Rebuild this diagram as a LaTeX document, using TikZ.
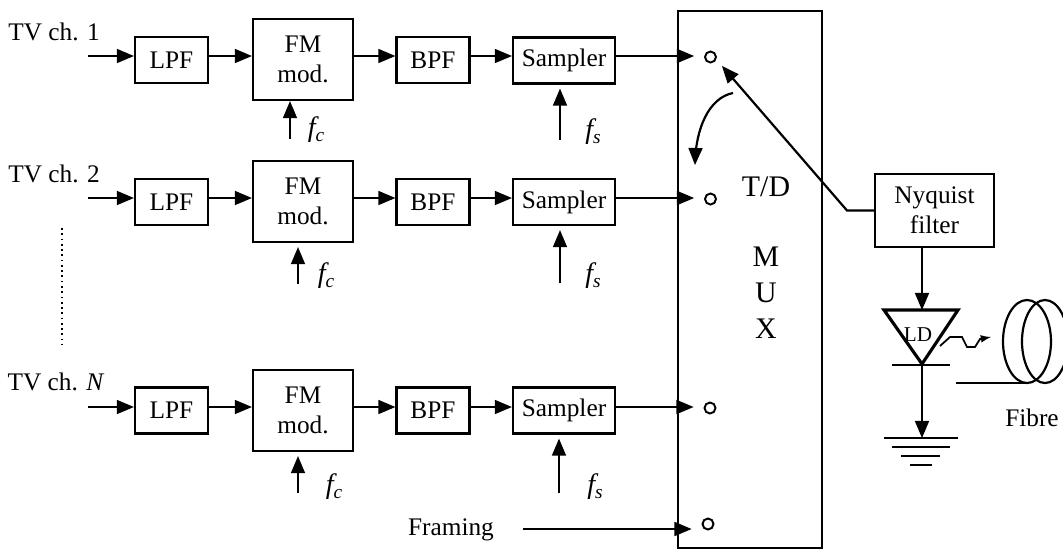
\documentclass[tikz,border=0pt]{standalone}
\usepackage{fontspec}
\setmainfont{Liberation Serif}
\usetikzlibrary{arrows}

\newcommand{\fsub}[1]{\textit{\fontsize{16}{16}\selectfont f\raisebox{-2.5pt}{\fontsize{11}{11}\selectfont #1}}}

\tikzset{
  sig/.style={line width=1.25pt,-triangle 45},
  gapsig/.style={sig,shorten >=.08cm},
  portsig/.style={sig,shorten >=.2cm},
  wire/.style={line width=1.25pt},
  smallbox/.style={draw,line width=1.3pt,minimum width=1.46cm,minimum height=.92cm,inner sep=0pt},
  fmbox/.style={draw,line width=1.3pt,minimum width=2cm,minimum height=1.62cm,inner sep=0pt,align=center},
  sampbox/.style={draw,line width=1.3pt,minimum width=2.04cm,minimum height=.92cm,inner sep=0pt},
  port/.style={draw,circle,line width=1.1pt,minimum size=.22cm,inner sep=0pt},
  txt/.style={inner sep=0pt,align=center}
}

\begin{document}
\begin{tikzpicture}[x=.2mm,y=-.2mm,font=\fontsize{14.4}{17}\selectfont]
\clip (0,0) rectangle (1063,550);

\draw (677,10) node (mux) [anchor=north west,draw,line width=1.3pt,minimum width=2.88cm,minimum height=10.74cm,inner sep=0pt] {};
\draw (766,257.5) node (muxtxt) [txt,font=\fontsize{17}{20.4}\selectfont] {T/D\\[.7cm]M\\U\\X};

% channel 1
\draw (54,32) node (tv1) [txt] {TV ch. 1};
\coordinate (i1) at (88,56);
\draw (171.5,60) node (l1) [smallbox] {LPF};
\draw (303,59.5) node (f1) [fmbox] {FM\\mod.};
\draw (433,60) node (b1) [smallbox] {BPF};
\draw (564,60.5) node (s1) [sampbox] {Sampler};
\draw (710.5,57) node (p1) [port] {};
\draw [sig] (i1) -- (i1 -| l1.west);
\draw [sig] (i1 -| l1.east) -- (i1 -| f1.west);
\draw [sig] (i1 -| f1.east) -- (i1 -| b1.west);
\draw [sig] (i1 -| b1.east) -- (i1 -| s1.west);
\draw [portsig] (i1 -| s1.east) -- (i1 -| p1.west);
\coordinate (c1) at (290,139);
\draw (316,130) node (fc1) [txt] {\fsub{c}};
\draw [sig] (c1) -- (c1 |- f1.south);
\coordinate (d1) at (560,140);
\draw (593,132) node (fs1) [txt] {\fsub{s}};
\draw [gapsig] (d1) -- (d1 |- s1.south);

% channel 2
\draw (54,174) node (tv2) [txt] {TV ch. 2};
\coordinate (i2) at (88,198);
\draw (171.5,202) node (l2) [smallbox] {LPF};
\draw (303,201.5) node (f2) [fmbox] {FM\\mod.};
\draw (433,202) node (b2) [smallbox] {BPF};
\draw (564,202) node (s2) [sampbox] {Sampler};
\draw (710.5,199) node (p2) [port] {};
\draw [sig] (i2) -- (i2 -| l2.west);
\draw [sig] (i2 -| l2.east) -- (i2 -| f2.west);
\draw [sig] (i2 -| f2.east) -- (i2 -| b2.west);
\draw [sig] (i2 -| b2.east) -- (i2 -| s2.west);
\draw [portsig] (i2 -| s2.east) -- (i2 -| p2.west);
\coordinate (c2) at (298,284);
\draw (326,276) node (fc2) [txt] {\fsub{c}};
\draw [gapsig] (c2) -- (c2 |- f2.south);
\coordinate (d2) at (560,283);
\draw (593,276) node (fs2) [txt] {\fsub{s}};
\draw [gapsig] (d2) -- (d2 |- s2.south);

\coordinate (dot1) at (62,228);
\coordinate (dot2) at (62,345);
\draw [dotted,line width=1pt] (dot1) -- (dot2);

% channel N
\draw (56,382) node (tvn) [txt] {TV ch. \textit{N}};
\coordinate (in) at (88,407);
\draw (171.5,410.5) node (ln) [smallbox] {LPF};
\draw (303,410.5) node (fn) [fmbox] {FM\\mod.};
\draw (433,410.5) node (bn) [smallbox] {BPF};
\draw (564,410.5) node (sn) [sampbox] {Sampler};
\draw (710,408) node (pn) [port] {};
\draw [sig] (in) -- (in -| ln.west);
\draw [sig] (in -| ln.east) -- (in -| fn.west);
\draw [sig] (in -| fn.east) -- (in -| bn.west);
\draw [sig] (in -| bn.east) -- (in -| sn.west);
\draw [portsig] (in -| sn.east) -- (in -| pn.west);
\coordinate (cn) at (298,493);
\draw (334,487) node (fcn) [txt] {\fsub{c}};
\draw [gapsig] (cn) -- (cn |- fn.south);
\coordinate (dn) at (559,493);
\draw (595,487) node (fsn) [txt] {\fsub{s}};
\draw [gapsig] (dn) -- (dn |- sn.south);

% framing
\draw (451,530) node (frm) [txt] {Framing};
\coordinate (i4) at (523,529);
\draw (708,524) node (p4) [port] {};
\draw [portsig] (i4) -- (i4 -| p4.west);

% switch
\draw (934.5,210.5) node (nyq) [draw,line width=1.3pt,minimum width=2.38cm,minimum height=1.46cm,inner sep=0pt,align=center] {Nyquist\\filter};
\coordinate (bend) at (847,210.5);
\coordinate (swtip) at (722,66);
\draw [sig] (nyq.west) -- (bend) -- (swtip);
\coordinate (sw1) at (733,93);
\coordinate (sw2) at (695,165);
\draw [sig] (sw1) .. controls (708,98) and (696,130) .. (sw2);

% laser and ground
\coordinate (ldt) at (922,310);
\coordinate (ldb) at (922,364);
\draw [line width=1.8pt,line join=miter] (884,310) -- (958,310) -- (ldb) -- cycle;
\draw (918,335) node (ld) [txt,font=\fontsize{12}{14}\selectfont] {LD};
\draw [sig] (nyq.south -| ldt) -- (ldt);
\draw [wire] (892,365) -- (950,365);
\coordinate (gnd) at (922,438);
\draw [sig] (ldb) -- (gnd);
\draw [line width=1.5pt] (884,438) -- (958,438);
\draw [line width=1.5pt] (892,447) -- (950,447);
\draw [line width=1.5pt] (901,456) -- (940,456);
\draw [line width=1.5pt] (910,465) -- (932,465);
\draw [line width=1pt,-latex] (940,346) -- (950,337) -- (962,337) -- (967,347) -- (975,347) -- (980,339) -- (991,337);

% fibre
\draw [line width=1.25pt] (1027,341.5) ellipse (24 and 41.5);
\draw [line width=1.25pt] (1045,341.5) ellipse (23 and 41.5);
\draw [wire] (956,383) -- (1027,383);
\draw (1032,418) node (fib) [txt] {Fibre};
\end{tikzpicture}
\end{document}
